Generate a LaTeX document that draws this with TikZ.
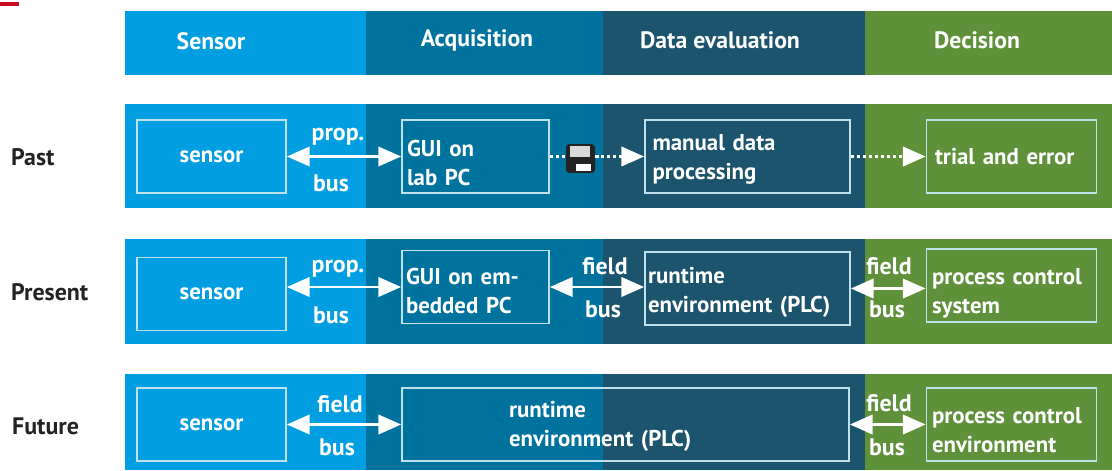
\documentclass[tikz,border=0pt]{standalone}
\usepackage{fontspec}
\setmainfont{PT Sans}
\usetikzlibrary{arrows.meta}
\definecolor{sensor_blue}{RGB}{2,158,226}
\definecolor{acq_blue}{RGB}{0,114,158}
\definecolor{eval_blue}{RGB}{27,84,108}
\definecolor{decision_green}{RGB}{95,145,58}
\definecolor{frame_light}{RGB}{190,225,235}
\definecolor{mark_red}{RGB}{200,10,35}
\definecolor{text_dark}{RGB}{35,35,35}
\tikzset{
	band/.style={fill=#1,draw=none},
	head/.style={text=white,font=\bfseries\fontsize{13.5}{15}\selectfont},
	row/.style={text=text_dark,anchor=west,font=\bfseries\fontsize{13.6}{15}\selectfont},
	lab/.style={text=white,font=\bfseries\fontsize{13.6}{15}\selectfont},
	box/.style 2 args={draw=frame_light,line width=1pt,text=white,align=left,anchor=center,
		text width=#1,inner xsep=#2,inner ysep=0pt,minimum height=1.46cm,
		font=\bfseries\fontsize{13}{16.5}\selectfont},
	drop/.style={execute at begin node={\rule{0pt}{#1}}},
	both/.style={white,line width=1.7pt,{Triangle[width=11pt,length=13pt]}-{Triangle[width=11pt,length=13pt]}},
	dots/.style={white,line width=1.8pt,dash pattern=on 1.8pt off 1.6pt},
	dotsto/.style={dots,-{Triangle[width=11pt,length=13pt]}},
}
\begin{document}
\begin{tikzpicture}[x=0.02cm,y=-0.02cm]
	\useasboundingbox (0,0) rectangle (1112,470);
	\fill[mark_red] (0,2) rectangle (19,6);

	\foreach \top/\bot in {11/75,104/208,239/344,374/470}{
		\fill[band=sensor_blue] (125,\top) rectangle (366,\bot);
		\fill[band=acq_blue] (366,\top) rectangle (603,\bot);
		\fill[band=eval_blue] (603,\top) rectangle (865,\bot);
		\fill[band=decision_green] (865,\top) rectangle (1112,\bot);
	}

	\node[head] (h1) at (211,41) {Sensor};
	\node[head] (h2) at (477,40) {Acquisition};
	\node[head] (h3) at (720,40) {Data evaluation};
	\node[head] (h4) at (977,40) {Decision};

	\node[row] (past) at (5,157) {Past};
	\node[row] (present) at (5,292) {Present};
	\node[row] (future) at (6,426) {Future};

	% past
	\node[box={2.78cm}{0.1cm},align=center] (s1) at (211.5,156.5) {sensor};
	\node[box={2.74cm}{0.1cm},drop=16.3pt] (g1) at (475.5,156.5) {GUI on\\lab PC};
	\node[box={3.8cm}{0.15cm},drop=12.3pt] (m1) at (747.5,156.5) {manual data\\processing};
	\node[box={3.06cm}{0.17cm}] (t1) at (1011.5,156.5) {trial and error};
	\node[fill=text_dark,rounded corners=2pt,minimum width=0.58cm,minimum height=0.58cm,inner sep=0pt] (disk) at (580.5,158.5) {};
	\fill[white!85!black] (570,146) rectangle (590,157);
	\fill[white] (576,164) rectangle (591,171);
	\draw[dots] (g1) -- (disk.west |- g1);
	\draw[dotsto] (disk.east |- m1) -- (m1);
	\draw[dotsto] (m1) -- (t1);
	\draw[both] (s1) -- (g1);
	\node[lab] (p1) at (338,137) {prop.};
	\node[lab] (b1) at (331,183) {bus};

	% present
	\node[box={2.78cm}{0.1cm},align=center] (s2) at (211.5,294) {sensor};
	\node[box={2.78cm}{0.08cm},drop=14pt] (g2) at (475.5,287) {GUI on em-\\bedded PC};
	\node[box={3.98cm}{0.06cm},drop=14pt] (r2) at (747.5,288.5) {runtime\\environment (PLC)};
	\node[box={3.18cm}{0.11cm},drop=17.5pt] (c2) at (1011.5,285.5) {process control\\system};
	\draw[both] (s2.east |- g2) -- (g2);
	\draw[both] (g2) -- (r2.west |- g2);
	\draw[both] (r2) -- (c2.west |- r2);
	\node[lab] (p2) at (338,269) {prop.};
	\node[lab] (b2) at (331,315) {bus};
	\node[lab] (f2) at (605,266) {field};
	\node[lab] (b3) at (603,309) {bus};
	\node[lab] (f3) at (889,266) {field};
	\node[lab] (b4) at (887,309) {bus};

	% future
	\node[box={2.78cm}{0.1cm},align=center] (s3) at (211.5,424.5) {sensor};
	\node[box={4.66cm}{2.14cm},drop=11.8pt] (r3) at (625.5,424.5) {runtime\\environment (PLC)};
	\node[box={3.18cm}{0.11cm},drop=15pt] (c3) at (1011.5,424.5) {process control\\environment};
	\draw[both] (s3) -- (r3);
	\draw[both] (r3) -- (c3);
	\node[lab] (f4) at (340,404) {field};
	\node[lab] (b5) at (337,447) {bus};
	\node[lab] (f5) at (889,403) {field};
	\node[lab] (b6) at (887,447) {bus};
\end{tikzpicture}
\end{document}
